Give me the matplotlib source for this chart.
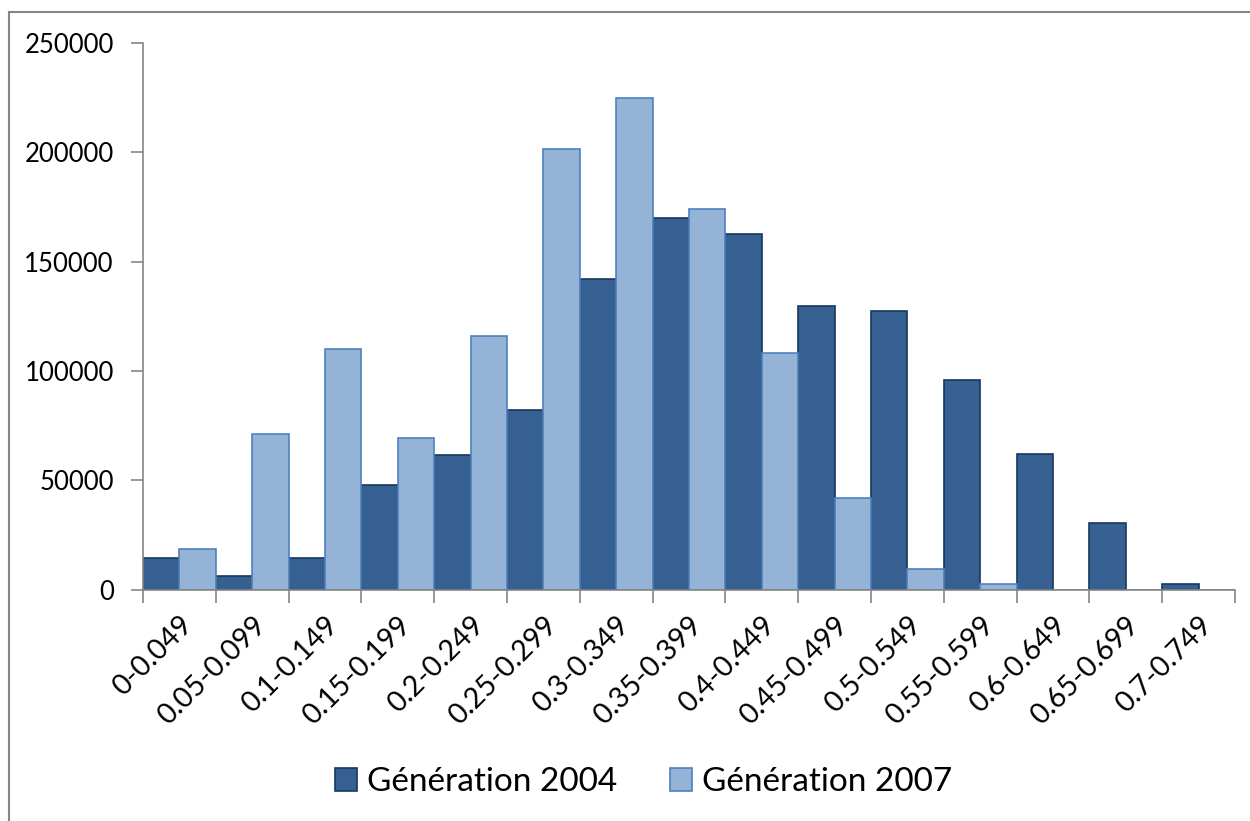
import numpy as np
import matplotlib.pyplot as plt
from matplotlib.patches import Rectangle

# categories and counts
bins = ['0-0.049', '0.05-0.099', '0.1-0.149', '0.15-0.199', '0.2-0.249',
        '0.25-0.299', '0.3-0.349', '0.35-0.399', '0.4-0.449', '0.45-0.499',
        '0.5-0.549', '0.55-0.599', '0.6-0.649', '0.65-0.699', '0.7-0.749']
gen2004 = [14500, 6300, 14200, 48000, 61700, 82000, 142000, 170000, 162600,
           129800, 127600, 96000, 62000, 30200, 2300]
gen2007 = [18300, 71300, 110200, 69500, 116100, 201600, 224800, 174100, 108300,
           42000, 9600, 2300, 0, 0, 0]
yticks = [0, 50000, 100000, 150000, 200000, 250000]

plt.rcParams['font.family'] = ['Lato', 'DejaVu Sans']

fig = plt.figure(figsize=(12.5, 8.21), dpi=100)
ax = fig.add_axes([143/1250, 1-589.5/821, (1235-143)/1250, (589.5-43)/821])

x = np.arange(len(bins))
w = 0.5
# dark bar in left half of each bin, light bar in right half
ax.bar(x, gen2004, width=w, align='edge', color='#376092',
       edgecolor='#17375E', linewidth=1.2, label='Génération 2004')
ax.bar(x + w, gen2007, width=w, align='edge', color='#95B3D7',
       edgecolor='#4F81BD', linewidth=1.2, label='Génération 2007')

ax.set_xlim(0, len(bins))
ax.set_ylim(0, 250000)
ax.set_yticks(yticks)
ax.set_yticklabels([str(v) for v in yticks], fontsize=18.5)
ax.set_xticks(np.arange(len(bins) + 1))
ax.set_xticklabels([])
ax.set_xticks(x + 0.5, minor=True)
ax.set_xticklabels(bins, minor=True, rotation=45, ha='right', va='top',
                   rotation_mode='anchor', fontsize=20.5)
ax.tick_params(axis='x', which='minor', length=0, pad=16)
ax.tick_params(axis='both', which='major', length=9, width=1.2, color='#868686',
               direction='out')
ax.tick_params(axis='y', pad=12)

for s in ['top', 'right']:
    ax.spines[s].set_visible(False)
for s in ['left', 'bottom']:
    ax.spines[s].set_color('#868686')
    ax.spines[s].set_linewidth(1.2)

leg = fig.legend(loc='center', bbox_to_anchor=(0.515, 1-782/821), ncol=2,
                 frameon=False, fontsize=24, handlelength=0.65, handleheight=0.7,
                 handletextpad=0.3, columnspacing=1.6)

fig.patches.append(Rectangle((9/1250, -0.1), 1.2, 1-12/821+0.1,
                             transform=fig.transFigure, fill=False,
                             edgecolor='#868686', linewidth=1.5))

fig.savefig('out.png', dpi=100)
